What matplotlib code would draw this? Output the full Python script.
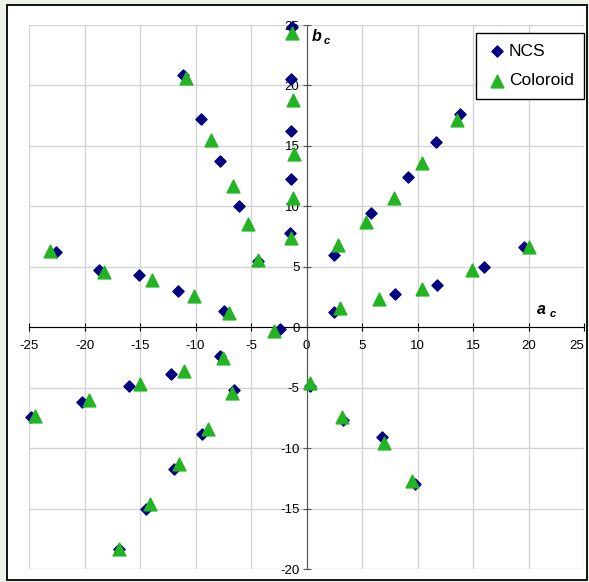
import matplotlib.pyplot as plt
from matplotlib.patches import Rectangle

plt.rcParams['font.family'] = ['Liberation Sans', 'DejaVu Sans']
plt.rcParams['axes.unicode_minus'] = False

# NCS points (a_c, b_c)
ncs_a = [-1.3, -1.4, -1.4, -1.4, -1.5,
         -11.1, -9.5, -7.75, -6.1, -4.4, -2.4,
         -22.6, -18.7, -15.1, -11.6, -7.45,
         2.5, 5.8, 9.1, 11.7, 13.8,
         2.5, 8.0, 11.8, 16.0, 19.6,
         0.3, 3.3, 6.8, 9.8,
         -24.8, -20.2, -15.95, -12.25, -7.75,
         -6.5, -9.4, -11.9, -14.5, -16.9]
ncs_b = [24.8, 20.5, 16.25, 12.25, 7.8,
         20.9, 17.2, 13.75, 10.05, 5.5, -0.17,
         6.25, 4.74, 4.32, 3.0, 1.35,
         5.95, 9.45, 12.4, 15.35, 17.6,
         1.27, 2.75, 3.5, 4.97, 6.6,
         -4.9, -7.65, -9.05, -13.0,
         -7.4, -6.15, -4.9, -3.9, -2.4,
         -5.2, -8.8, -11.75, -15.05, -18.35]

# Coloroid points (a_c, b_c)
col_a = [-1.3, -1.2, -1.1, -1.2, -1.4,
         -10.9, -8.6, -6.6, -5.3, -4.35, -2.9,
         -23.1, -18.2, -13.9, -10.1, -6.95,
         2.8, 5.35, 7.9, 10.4, 13.55,
         3.0, 6.5, 10.45, 14.9, 20.0,
         0.35, 3.2, 7.0, 9.5,
         -24.5, -19.55, -15.0, -11.0, -7.5,
         -6.7, -8.85, -11.45, -14.1, -16.9]
col_b = [24.35, 18.8, 14.3, 10.65, 7.4,
         20.6, 15.5, 11.7, 8.5, 5.6, -0.3,
         6.3, 4.6, 3.9, 2.6, 1.15,
         6.8, 8.7, 10.7, 13.6, 17.15,
         1.6, 2.35, 3.15, 4.72, 6.6,
         -4.6, -7.4, -9.55, -12.75,
         -7.33, -6.0, -4.7, -3.6, -2.55,
         -5.45, -8.4, -11.3, -14.6, -18.35]

x_ticks = list(range(-25, 30, 5))
y_ticks = list(range(-20, 30, 5))

fig = plt.figure(figsize=(5.89, 5.82), dpi=100, facecolor='#eef3ea')
fig.patches.append(Rectangle((7 / 589, 2 / 582), 580 / 589, 575 / 582,
                             transform=fig.transFigure, facecolor='white',
                             edgecolor='black', linewidth=1.3, zorder=-10))

ax = fig.add_axes([29 / 589, 13 / 582, 555 / 589, 544 / 582])
ax.set_facecolor('none')
ax.set_xlim(-25, 25)
ax.set_ylim(-20, 25)
ax.set_xticks(x_ticks)
ax.set_yticks(y_ticks)
ax.grid(True, color='#d4d4d4', linewidth=1.0, zorder=0)
ax.set_axisbelow(True)

for s in ['top', 'right']:
    ax.spines[s].set_visible(False)
ax.spines['left'].set_position(('data', 0))
ax.spines['bottom'].set_position(('data', 0))
ax.spines['left'].set_color('#555555')
ax.spines['bottom'].set_color('black')
ax.tick_params(axis='x', direction='inout', length=6, color='black',
               labelsize=9.5, pad=6)
ax.tick_params(axis='y', direction='inout', length=6, color='#555555',
               labelsize=9.5, pad=2)
ax.get_xticklabels()[-1].set_horizontalalignment('right')
ax.get_xticklabels()[-1].set_x(25.3)

ax.scatter(ncs_a, ncs_b, marker='D', s=32, color='#000080', zorder=3,
           label='NCS', clip_on=False)
ax.scatter(col_a, col_b, marker='^', s=85, color='#22b422', zorder=4,
           label='Coloroid', clip_on=False)

leg = ax.legend(loc='upper right', bbox_to_anchor=(584 / 589, 1 - 33 / 582),
                bbox_transform=fig.transFigure, fontsize=12.5, frameon=True,
                fancybox=False, edgecolor='black', framealpha=1,
                handletextpad=0.0, handlelength=1.3, borderpad=0.6,
                labelspacing=0.85, borderaxespad=0)
leg.get_frame().set_linewidth(1.0)

ax.text(20.8, 1.1, 'a', fontsize=11.5, fontweight='bold', style='italic')
ax.text(21.9, 0.85, 'c', fontsize=8, fontweight='bold', style='italic')
ax.text(0.5, 23.7, 'b', fontsize=11.5, fontweight='bold', style='italic')
ax.text(1.55, 23.45, 'c', fontsize=8, fontweight='bold', style='italic')

fig.savefig('out.png', dpi=100, facecolor=fig.get_facecolor())
